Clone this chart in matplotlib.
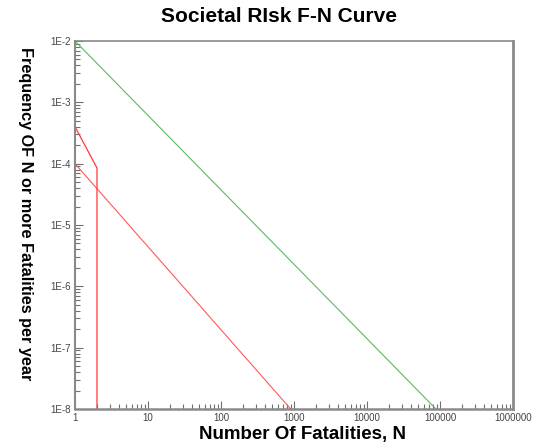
import matplotlib.pyplot as plt
from matplotlib.ticker import LogLocator, FixedLocator, NullFormatter

# data
green_n = [1, 88000]
green_f = [1e-2, 1e-8]
red_diag_n = [1, 900]
red_diag_f = [1e-4, 1e-8]
red_step_n = [1, 2, 2]
red_step_f = [4e-4, 8.5e-5, 1e-8]

x_ticks = [1, 10, 100, 1000, 10000, 100000, 1000000]
x_labels = ["1", "10", "100", "1000", "10000", "100000", "1000000"]
y_ticks = [1e-8, 1e-7, 1e-6, 1e-5, 1e-4, 1e-3, 1e-2]
y_labels = ["1E-8", "1E-7", "1E-6", "1E-5", "1E-4", "1E-3", "1E-2"]

plt.rcParams['font.family'] = ['Liberation Sans', 'DejaVu Sans']

fig = plt.figure(figsize=(5.33, 4.47), dpi=100)
ax = fig.add_axes([75/533, 1 - 409/447, 438/533, 368/447])

ax.plot(green_n, green_f, color="#60b860", linewidth=0.8)
ax.plot(red_diag_n, red_diag_f, color="#ff5858", linewidth=0.8)
ax.plot(red_step_n, red_step_f, color="#ff3838", linewidth=0.9)

ax.set_xscale("log")
ax.set_yscale("log")
ax.set_xlim(1, 1e6)
ax.set_ylim(1e-8, 1e-2)

ax.xaxis.set_major_locator(FixedLocator(x_ticks))
ax.set_xticklabels(x_labels)
ax.yaxis.set_major_locator(FixedLocator(y_ticks))
ax.set_yticklabels(y_labels)
ax.xaxis.set_minor_locator(LogLocator(base=10, subs=range(2, 10), numticks=20))
ax.yaxis.set_minor_locator(LogLocator(base=10, subs=range(2, 10), numticks=20))
ax.xaxis.set_minor_formatter(NullFormatter())
ax.yaxis.set_minor_formatter(NullFormatter())

ax.tick_params(which="major", direction="in", length=6, width=0.8, color="#707070",
               labelsize=7, labelcolor="#444444", pad=3)
ax.tick_params(which="minor", direction="in", length=3.5, width=0.8, color="#707070")

for s in ax.spines.values():
    s.set_color("#8a8a8a")
    s.set_linewidth(1.2)
ax.spines["right"].set_linewidth(2)
ax.spines["bottom"].set_linewidth(1.8)
ax.spines["left"].set_linewidth(1.5)

fig.text(0.524, 1 - 16/447, "Societal RIsk F-N Curve", ha="center", va="center",
         fontsize=15, fontweight="bold")
fig.text(0.568, 1 - 435/447, "Number Of Fatalities, N", ha="center", va="center",
         fontsize=13.5, fontweight="bold")
fig.text(25/533, 1 - 214/447, "Frequency OF N or more Fatalities per year", ha="center",
         va="center", rotation=270, fontsize=11.7, fontweight="bold")

fig.savefig("out.png", dpi=100)
